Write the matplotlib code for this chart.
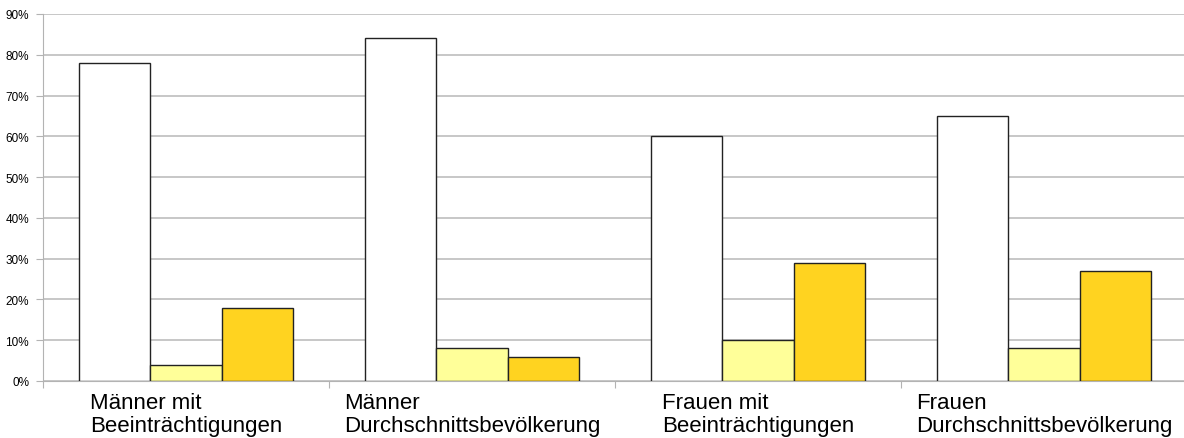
import matplotlib
matplotlib.use("Agg")
import matplotlib.pyplot as plt
import numpy as np

categories = ["Männer mit\nBeeinträchtigungen", "Männer\nDurchschnittsbevölkerung",
              "Frauen mit\nBeeinträchtigungen", "Frauen\nDurchschnittsbevölkerung"]
series_a = [78, 84, 60, 65]   # white
series_b = [4, 8, 10, 8]      # light yellow
series_c = [18, 6, 29, 27]    # gold
yticks = [0, 10, 20, 30, 40, 50, 60, 70, 80, 90]
ytick_labels = [f"{v}%" for v in yticks]

plt.rcParams['font.family'] = ['Liberation Sans', 'DejaVu Sans']

fig = plt.figure(figsize=(11.84, 4.39), dpi=100)
ax = fig.add_axes([43/1184, 1-382/439, 1144/1184, (382-15)/439])

x = np.arange(len(categories))
w = 0.25
colors = ["#ffffff", "#ffff99", "#ffd320"]
for i, (vals, c) in enumerate(zip([series_a, series_b, series_c], colors)):
    ax.bar(x + (i - 1) * w, vals, width=w, color=c, edgecolor="#222222", linewidth=1.0, zorder=3)

ax.set_xlim(-0.5, len(categories) - 0.5)
ax.set_ylim(0, 90)
ax.set_yticks(yticks)
ax.set_yticklabels(ytick_labels, fontsize=8.5)
ax.yaxis.grid(True, color="#bdbdbd", linewidth=1.2, zorder=0)
ax.set_axisbelow(True)

ax.set_xticks(np.arange(-0.5, len(categories) + 0.5, 1.0))
ax.set_xticklabels([])
ax.set_xticks(x, minor=True)
ax.set_xticklabels(categories, minor=True, fontsize=16, linespacing=1.14)
for lbl in ax.get_xticklabels(minor=True):
    lbl.set_multialignment('left')
ax.tick_params(axis='x', which='minor', length=0, pad=8)
ax.tick_params(axis='x', which='major', length=5, color="#b3b3b3")
ax.tick_params(axis='y', length=5, color="#b3b3b3", pad=5)

for s in ["top", "right"]:
    ax.spines[s].set_visible(False)
for s in ["left", "bottom"]:
    ax.spines[s].set_color("#b3b3b3")

fig.savefig("out.png", dpi=100)
